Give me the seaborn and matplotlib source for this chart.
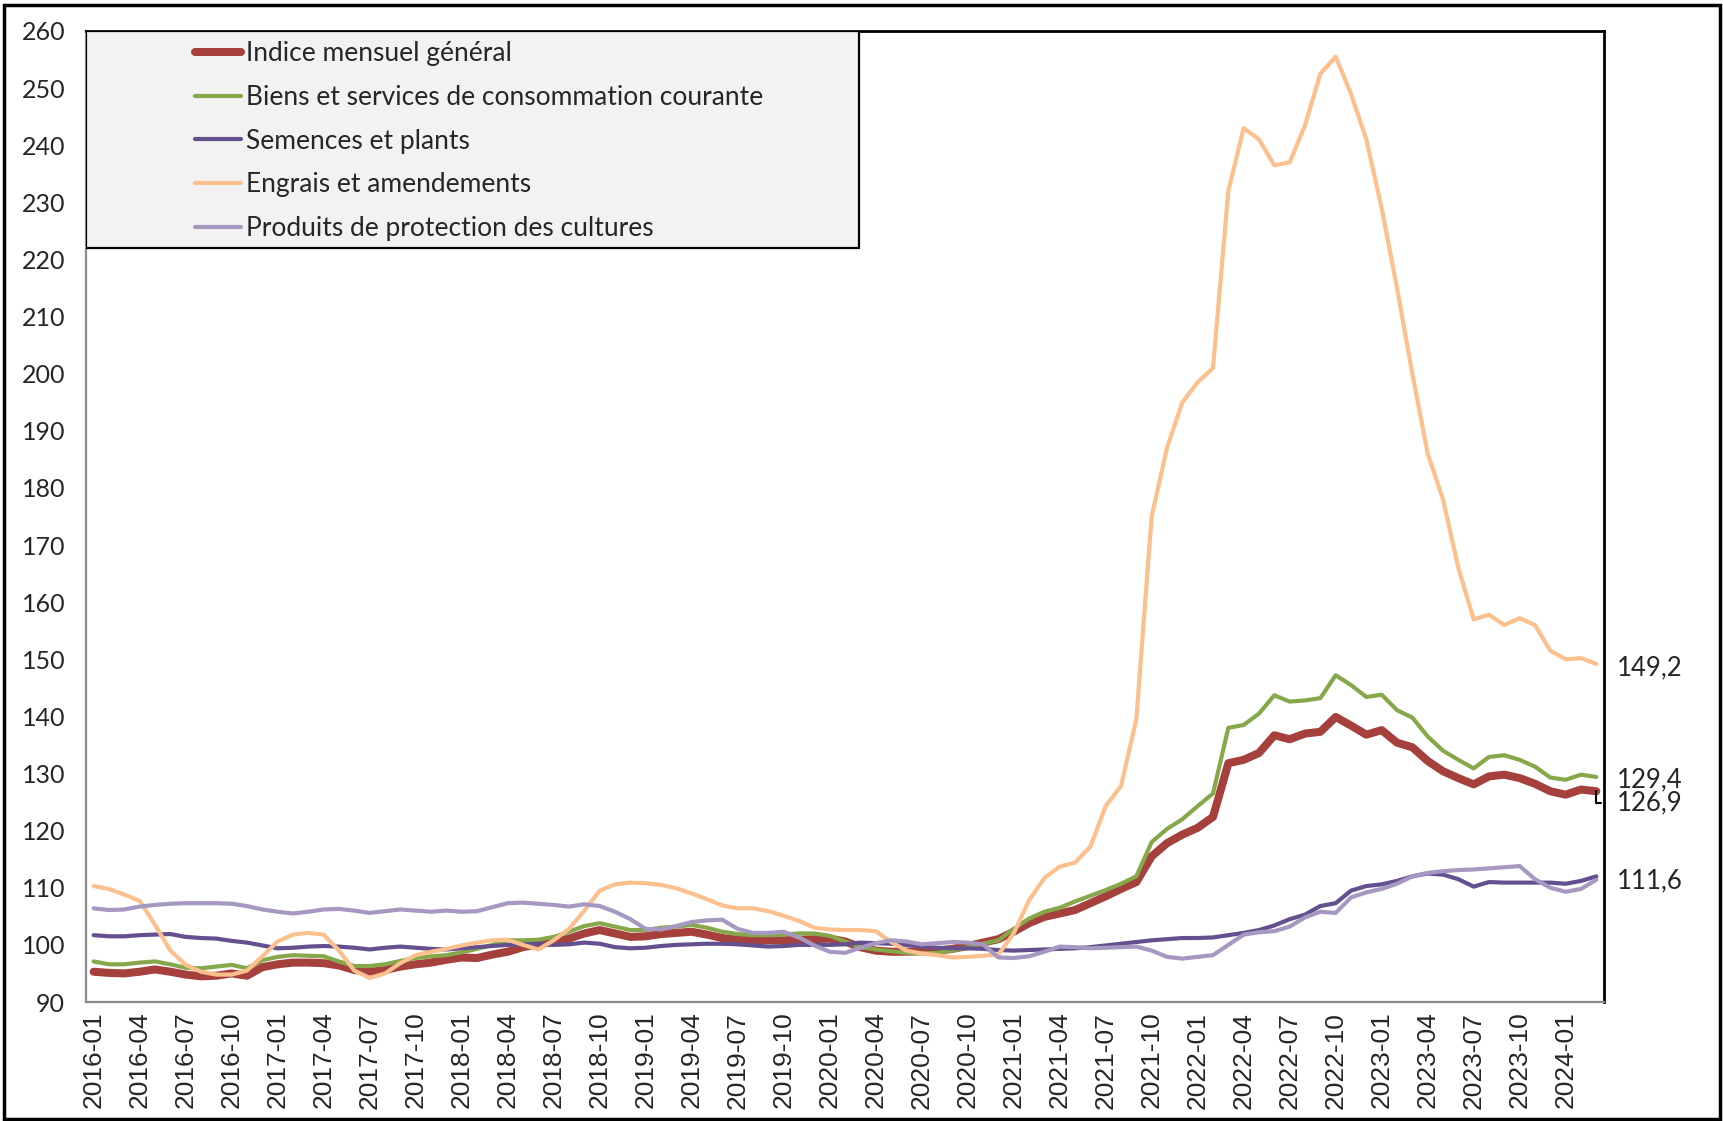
import numpy as np
import pandas as pd
import matplotlib
matplotlib.use("Agg")
import matplotlib.pyplot as plt
import matplotlib.transforms as mtransforms
from matplotlib.patches import Rectangle
import seaborn as sns

# ---------------- data (monthly, 2016-01 .. 2024-03) ----------------
months = pd.period_range("2016-01", "2024-03", freq="M").strftime("%Y-%m").tolist()

indice_general = [
    95.3, 95.1, 95.0, 95.3, 95.7, 95.3, 94.8, 94.5, 94.6, 95.0, 94.6, 96.1,
    96.6, 96.9, 96.9, 96.8, 96.4, 95.6, 95.3, 95.6, 96.2, 96.6, 96.9, 97.4,
    97.8, 97.7, 98.3, 98.8, 99.6, 100.1, 100.5, 101.1, 102.0, 102.6, 102.0, 101.4,
    101.5, 101.9, 102.1, 102.3, 101.8, 101.2, 100.9, 100.8, 100.8, 100.8, 100.9, 101.0,
    101.1, 100.6, 99.6, 99.0, 98.8, 98.8, 98.9, 99.0, 99.3, 99.8, 100.4, 101.0,
    102.3, 103.8, 104.9, 105.5, 106.1, 107.3, 108.5, 109.8, 111.0, 115.5, 117.8, 119.3,
    120.5, 122.4, 131.8, 132.4, 133.6, 136.7, 136.0, 137.0, 137.3, 139.9, 138.4, 136.8,
    137.6, 135.4, 134.6, 132.2, 130.4, 129.2, 128.1, 129.5, 129.8, 129.2, 128.2, 126.9,
    126.3, 127.2, 126.9]

biens_services = [
    97.1, 96.6, 96.6, 96.9, 97.1, 96.6, 96.0, 95.9, 96.2, 96.5, 95.9, 97.3,
    97.9, 98.2, 98.1, 98.0, 97.1, 96.3, 96.3, 96.6, 97.2, 97.7, 98.0, 98.2,
    98.7, 99.3, 100.0, 100.8, 100.8, 100.9, 101.4, 102.3, 103.3, 103.8, 103.2, 102.6,
    102.6, 103.0, 103.2, 103.5, 103.0, 102.3, 101.9, 101.7, 101.7, 101.8, 102.0, 102.0,
    101.6, 100.6, 99.6, 99.2, 98.9, 98.6, 98.5, 98.6, 99.0, 99.6, 100.2, 100.8,
    102.8, 104.6, 105.8, 106.5, 107.6, 108.6, 109.6, 110.7, 112.0, 118.0, 120.3, 122.0,
    124.3, 126.5, 138.0, 138.5, 140.5, 143.7, 142.6, 142.8, 143.2, 147.2, 145.5, 143.4,
    143.8, 141.1, 139.8, 136.5, 134.0, 132.4, 130.9, 132.9, 133.2, 132.4, 131.2, 129.3,
    128.9, 129.8, 129.4]

semences = [
    101.7, 101.5, 101.5, 101.7, 101.8, 101.9, 101.4, 101.2, 101.1, 100.7, 100.4, 99.9,
    99.4, 99.5, 99.7, 99.8, 99.7, 99.5, 99.2, 99.5, 99.7, 99.5, 99.3, 99.2,
    99.4, 99.6, 99.8, 100.0, 100.1, 100.2, 100.0, 100.1, 100.4, 100.2, 99.6, 99.4,
    99.5, 99.8, 100.0, 100.1, 100.2, 100.2, 100.1, 99.9, 99.7, 99.8, 100.0, 100.0,
    100.0, 100.1, 100.4, 100.3, 100.2, 100.0, 99.7, 99.5, 99.4, 99.4, 99.3, 99.1,
    99.0, 99.1, 99.2, 99.3, 99.4, 99.6, 99.9, 100.2, 100.5, 100.8, 101.0, 101.2,
    101.2, 101.3, 101.7, 102.1, 102.6, 103.4, 104.5, 105.3, 106.8, 107.3, 109.5, 110.3,
    110.6, 111.2, 112.0, 112.5, 112.3, 111.5, 110.2, 111.0, 110.9, 110.9, 110.9, 110.9,
    110.7, 111.2, 112.0]

engrais = [
    110.3, 109.8, 108.8, 107.7, 103.5, 99.0, 96.5, 95.3, 94.8, 94.8, 95.5, 98.0,
    100.6, 101.8, 102.1, 101.8, 99.0, 95.5, 94.2, 95.0, 96.8, 98.2, 98.8, 99.3,
    99.9, 100.4, 100.8, 100.9, 100.0, 99.2, 100.8, 102.8, 106.0, 109.5, 110.6, 110.9,
    110.8, 110.5, 109.9, 109.0, 108.0, 106.9, 106.4, 106.4, 105.9, 105.1, 104.2, 103.0,
    102.7, 102.6, 102.6, 102.4, 100.5, 99.0, 98.5, 98.2, 97.8, 97.9, 98.1, 98.3,
    102.0, 107.8, 111.7, 113.7, 114.4, 117.2, 124.3, 127.8, 139.5, 175.0, 187.0, 195.0,
    198.5, 201.0, 232.0, 243.0, 241.0, 236.5, 237.0, 243.5, 252.5, 255.5, 249.0, 241.0,
    229.0, 215.0, 200.0, 186.0, 178.0, 166.0, 157.0, 157.8, 156.0, 157.2, 156.0, 151.5,
    150.0, 150.2, 149.2]

protection = [
    106.4, 106.1, 106.2, 106.7, 107.0, 107.2, 107.3, 107.3, 107.3, 107.2, 106.8, 106.2,
    105.8, 105.5, 105.8, 106.2, 106.3, 106.0, 105.6, 105.9, 106.2, 106.0, 105.8, 106.0,
    105.8, 105.9, 106.6, 107.3, 107.4, 107.2, 107.0, 106.7, 107.1, 106.8, 105.8, 104.5,
    102.8, 102.7, 103.3, 104.0, 104.3, 104.4, 102.8, 102.1, 102.1, 102.3, 101.3, 99.9,
    98.8, 98.6, 99.5, 100.3, 100.8, 100.6, 100.1, 100.3, 100.5, 100.4, 100.1, 97.8,
    97.7, 98.0, 98.8, 99.7, 99.6, 99.4, 99.5, 99.6, 99.7, 99.0, 97.9, 97.6,
    97.9, 98.2, 100.0, 101.8, 102.2, 102.4, 103.2, 104.8, 105.8, 105.6, 108.3, 109.2,
    109.8, 110.7, 112.0, 112.6, 112.9, 113.1, 113.2, 113.4, 113.6, 113.8, 111.5, 110.0,
    109.3, 109.8, 111.4]

series_names = ["Indice mensuel général",
                "Biens et services de consommation courante",
                "Semences et plants",
                "Engrais et amendements",
                "Produits de protection des cultures"]
series_values = [indice_general, biens_services, semences, engrais, protection]
series_colors = ["#A6403D", "#86A84A", "#65508F", "#FBC08E", "#A698C1"]
series_widths = [5.8, 3.0, 3.0, 3.0, 3.0]

end_labels = ["126,9", "129,4", "111,6", "149,2"]
end_label_y = [124.8, 128.9, 111.2, 148.5]

# ---------------- figure ----------------
sns.set_style("white")
plt.rcParams["font.family"] = ["Lato", "DejaVu Sans"]

fig = plt.figure(figsize=(17.23, 11.21), dpi=100)
ax = fig.add_axes([86 / 1723, 1 - 1002 / 1121, (1604 - 86) / 1723, (1002 - 31) / 1121])

x = np.arange(len(months))
for name, vals, col, lw in zip(series_names, series_values, series_colors, series_widths):
    sns.lineplot(x=x, y=vals, ax=ax, color=col, linewidth=lw, label=name,
                 solid_capstyle="round", solid_joinstyle="round", zorder=2)

ax.set_xlim(-0.5, len(months) - 0.5)
ax.set_ylim(90, 260)
ax.set_yticks(np.arange(90, 261, 10))
ax.set_yticklabels([str(v) for v in range(90, 261, 10)], fontsize=18)
ax.set_xticks(x[::3])
ax.set_xticklabels(months[::3], rotation=90, fontsize=19, family="Liberation Sans")
ax.set_xticks(np.arange(-0.5, len(months), 1), minor=True)
ax.tick_params(axis="x", which="major", length=0, pad=7)
ax.tick_params(axis="x", which="minor", length=8, width=1.3, color="#8c8c8c", direction="out")
ax.tick_params(axis="y", which="major", length=5, width=1.3, color="#8c8c8c", direction="out", pad=10)
ax.set_xlabel("")
ax.set_ylabel("")
ax.grid(False)

for side in ["left", "bottom"]:
    ax.spines[side].set_color("#8c8c8c")
    ax.spines[side].set_linewidth(1.6)
for side in ["top", "right"]:
    ax.spines[side].set_color("black")
    ax.spines[side].set_linewidth(2.0)

# legend box
box = Rectangle((0, 0.7765), (859 - 86) / 1518, 0.2235, transform=ax.transAxes,
                facecolor="#f2f2f2", edgecolor="black", linewidth=1.6, zorder=3)
ax.add_patch(box)
leg = ax.legend(loc="upper left", bbox_to_anchor=(0.0715, 0.9895), frameon=False,
                fontsize=19, handlelength=1.75, handletextpad=0.2, labelspacing=0.71,
                borderpad=0, borderaxespad=0)
leg.set_zorder(4)

# end-of-series value labels
trans = mtransforms.blended_transform_factory(ax.transAxes, ax.transData)
last = len(months) - 1
for k in (3, 1, 2):
    ax.text(1.0087, end_label_y[k], end_labels[k], transform=trans, va="center", ha="left",
            fontsize=18.5, clip_on=False)
ax.annotate(end_labels[0], xy=(last, indice_general[-1]), xycoords="data",
            xytext=(1.0087, end_label_y[0]), textcoords=trans, va="center", ha="left",
            fontsize=18.5, annotation_clip=False,
            arrowprops=dict(arrowstyle="-", color="black", lw=1.5, shrinkA=9, shrinkB=0,
                            connectionstyle="angle,angleA=180,angleB=90,rad=0"))

# outer frame
fig.patches.append(Rectangle((4 / 1723, 2 / 1121), 1716 / 1723, 1114 / 1121,
                             transform=fig.transFigure, fill=False,
                             edgecolor="black", linewidth=2.5))

fig.savefig("out.png", dpi=100)
